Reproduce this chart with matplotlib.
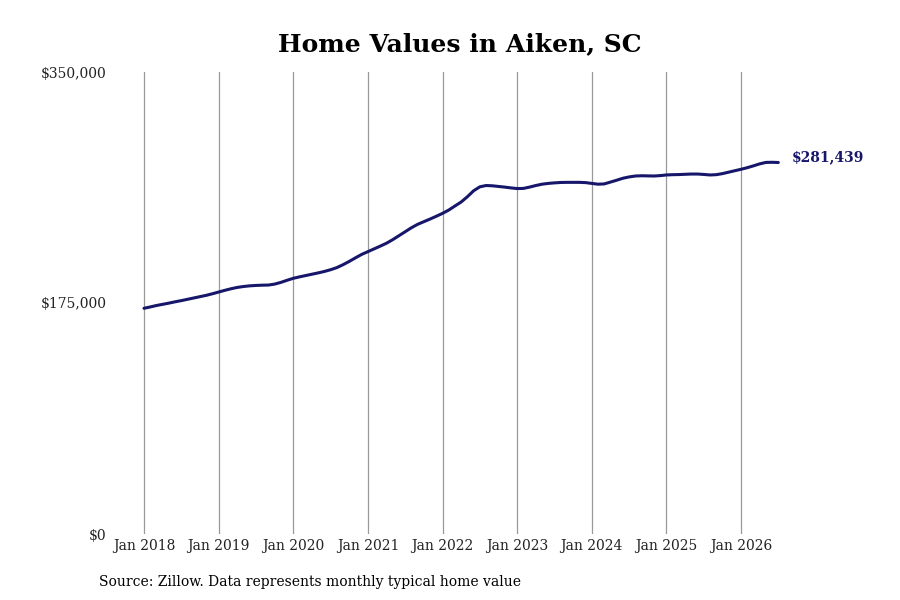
import matplotlib
matplotlib.use("Agg")
import matplotlib.pyplot as plt
import numpy as np

plt.rcParams['font.family'] = ['DejaVu Serif']

# Monthly typical home value, Jan 2018 .. Jul 2026 (thousands of $)
values_2018 = [171.0, 172.0, 173.1, 174.0, 174.9, 175.9, 176.8, 177.8, 178.8, 179.8, 180.8, 182.0]
values_2019 = [183.3, 184.6, 185.8, 186.8, 187.5, 188.0, 188.3, 188.5, 188.6, 189.3, 190.6, 192.2]
values_2020 = [193.7, 194.8, 195.8, 196.8, 197.8, 198.9, 200.2, 201.8, 204.0, 206.5, 209.2, 211.8]
values_2021 = [213.9, 216.0, 218.1, 220.3, 223.0, 226.0, 229.0, 232.0, 234.6, 236.6, 238.6, 240.7]
values_2022 = [242.9, 245.4, 248.5, 251.5, 255.5, 260.0, 263.0, 264.0, 263.8, 263.3, 262.8, 262.2]
values_2023 = [261.7, 261.8, 262.8, 264.0, 265.0, 265.6, 266.0, 266.3, 266.4, 266.4, 266.4, 266.2]
values_2024 = [265.6, 265.0, 265.2, 266.6, 268.0, 269.5, 270.5, 271.2, 271.4, 271.3, 271.2, 271.5]
values_2025 = [272.0, 272.2, 272.3, 272.5, 272.7, 272.7, 272.4, 272.0, 272.2, 273.0, 274.1, 275.2]
values_2026 = [276.3, 277.5, 278.9, 280.4, 281.5, 281.6, 281.439]

tick_labels = ["Jan 2018", "Jan 2019", "Jan 2020", "Jan 2021", "Jan 2022",
               "Jan 2023", "Jan 2024", "Jan 2025", "Jan 2026"]
y_ticks = [0, 175000, 350000]
y_tick_labels = ["$0", "$175,000", "$350,000"]
end_label = "$281,439"
title = "Home Values in Aiken, SC"
source = "Source: Zillow. Data represents monthly typical home value"

values = np.array(values_2018 + values_2019 + values_2020 + values_2021 + values_2022 +
                  values_2023 + values_2024 + values_2025 + values_2026) * 1000
months = np.arange(len(values))
tick_pos = np.arange(len(tick_labels)) * 12

fig = plt.figure(figsize=(9, 6), dpi=100)
W, H = 900, 600
ax_left_px, ax_right_px = 112, 790
ax_top_px, ax_bot_px = 72, 534
ax = fig.add_axes([ax_left_px / W, 1 - ax_bot_px / H,
                   (ax_right_px - ax_left_px) / W, (ax_bot_px - ax_top_px) / H])

line_color = '#16166a'
ax.plot(months, values, color=line_color, lw=2.2, solid_capstyle='round')

# x-limits so that Jan 2018 -> px 144 and Jan 2026 -> px 741
px_per_month = (741 - 144) / 96
ax.set_xlim(-(144 - ax_left_px) / px_per_month, 96 + (ax_right_px - 741) / px_per_month)
ax.set_ylim(0, 350000)

ax.set_xticks(tick_pos)
ax.set_xticklabels(tick_labels, fontsize=10)
ax.set_yticks(y_ticks)
ax.set_yticklabels(y_tick_labels, fontsize=10)
ax.tick_params(axis='both', length=0, colors='#222222')
ax.tick_params(axis='x', pad=3.5)
ax.tick_params(axis='y', pad=4)

ax.grid(axis='x', color='#999999', lw=0.9)
ax.grid(axis='y', visible=False)
for s in ax.spines.values():
    s.set_visible(False)

ax.annotate(end_label, xy=(months[-1], values[-1]), xytext=(10, 3.5),
            textcoords='offset points', fontsize=10, fontweight='bold',
            color=line_color, va='center', ha='left', annotation_clip=False)

fig.text(460 / W, 1 - 44 / H, title, ha='center', va='center', fontsize=18, fontweight='bold')
fig.text(99 / W, 1 - 582 / H, source, ha='left', va='center', fontsize=10)

fig.savefig("out.png", dpi=100, facecolor='white')
